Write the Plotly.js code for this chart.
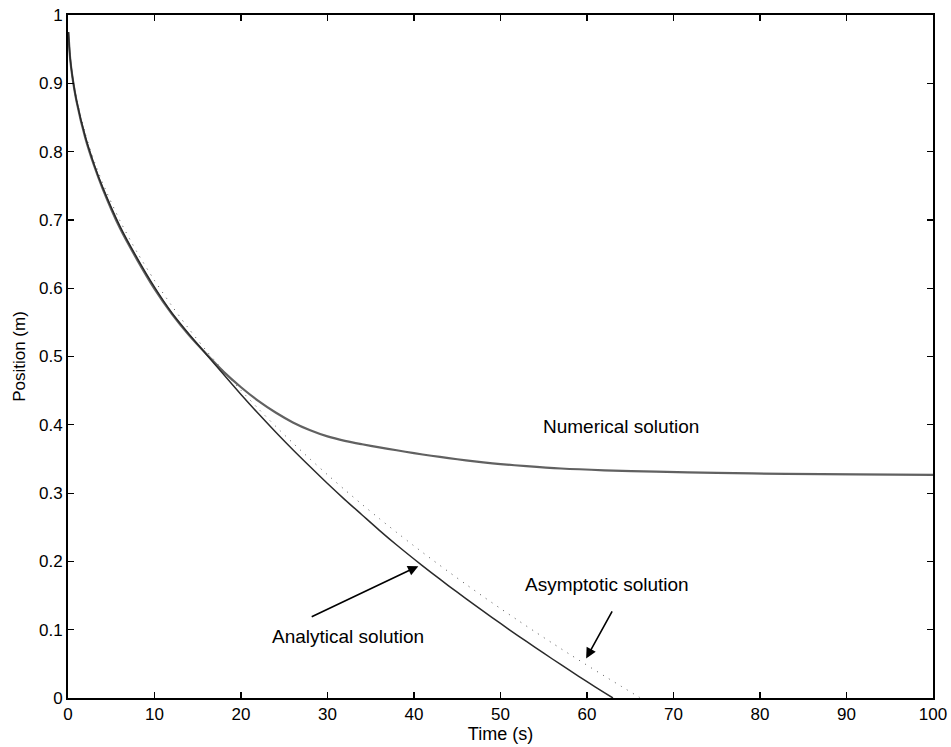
<!DOCTYPE html>
<html>
<head>
<meta charset="utf-8">
<script src="https://cdn.plot.ly/plotly-3.0.1.min.js"></script>
<style>html,body{margin:0;padding:0;background:#fff;}#chart{width:951px;height:747px;}</style>
</head>
<body>
<div id="chart"></div>
<script>
// Time (s) samples and positions (m)
var numT = [0.04, 0.25, 0.5, 1, 2, 3, 4, 6, 8, 10, 12, 14, 16, 18, 20, 22, 24, 26, 28, 30, 32, 34, 36, 38, 40, 42, 44, 46, 48, 50, 53, 57, 62, 68, 75, 83, 91, 100];
var numX = [0.975, 0.936, 0.910, 0.873, 0.820, 0.780, 0.746, 0.688, 0.6415, 0.599, 0.5625, 0.531, 0.5035, 0.4775, 0.455, 0.435, 0.418, 0.4035, 0.392, 0.383, 0.3765, 0.3715, 0.367, 0.3627, 0.3585, 0.3547, 0.3512, 0.348, 0.345, 0.3425, 0.3394, 0.336, 0.3334, 0.3313, 0.3296, 0.3282, 0.3273, 0.3266];

var anaT = [0.04, 0.25, 0.5, 1, 2, 3, 4, 6, 8, 10, 12, 14, 16, 18, 20, 22, 24, 26, 28, 30, 32, 34, 36, 38, 40, 42, 44, 46, 48, 50, 52, 54, 56, 58, 60, 62, 63];
var anaX = [0.975, 0.937, 0.911, 0.874, 0.822, 0.782, 0.748, 0.691, 0.644, 0.6015, 0.564, 0.5325, 0.503, 0.4735, 0.4445, 0.4165, 0.3895, 0.3635, 0.3385, 0.314, 0.2905, 0.268, 0.2455, 0.224, 0.2035, 0.1836, 0.1643, 0.1455, 0.1271, 0.1091, 0.0914, 0.0741, 0.0571, 0.0404, 0.024, 0.0079, 0.0];

var asyT = [0.04, 0.25, 0.5, 1, 2, 3, 4, 6, 8, 10, 12, 14, 16, 18, 20, 22, 24, 26, 28, 30, 32, 34, 36, 38, 40, 42, 44, 46, 48, 50, 52, 54, 56, 58, 60, 62, 64, 66, 66.2];
var asyX = [0.975, 0.9386, 0.9131, 0.8771, 0.8262, 0.7871, 0.7542, 0.699, 0.6524, 0.6114, 0.5743, 0.5401, 0.5084, 0.4786, 0.4504, 0.4236, 0.3979, 0.3733, 0.3497, 0.3269, 0.3048, 0.2834, 0.2626, 0.2424, 0.2227, 0.2035, 0.1848, 0.1665, 0.1485, 0.131, 0.1138, 0.0969, 0.0803, 0.064, 0.048, 0.0323, 0.0168, 0.0015, 0.0];

var xTicks = [0, 10, 20, 30, 40, 50, 60, 70, 80, 90, 100];
var yTicks = [0, 0.1, 0.2, 0.3, 0.4, 0.5, 0.6, 0.7, 0.8, 0.9, 1];
var yTickText = ["0", "0.1", "0.2", "0.3", "0.4", "0.5", "0.6", "0.7", "0.8", "0.9", "1"];

var labels = ["Numerical solution", "Asymptotic solution", "Analytical solution"];

var FONT = "Liberation Sans, Arial, Helvetica, sans-serif";

var traces = [
  {x: asyT, y: asyX, mode: "lines", line: {color: "#555555", width: 1, dash: "1px,6px", shape: "spline", smoothing: 0.8}, hoverinfo: "none"},
  {x: numT, y: numX, mode: "lines", line: {color: "#616161", width: 2.2, shape: "spline", smoothing: 0.8}, hoverinfo: "none"},
  {x: anaT, y: anaX, mode: "lines", line: {color: "#2a2a2a", width: 1.5, shape: "spline", smoothing: 0.8}, hoverinfo: "none"}
];

var axisCommon = {
  showgrid: false, zeroline: false, showline: true, mirror: "ticks",
  linecolor: "#000", linewidth: 2, ticks: "inside", ticklen: 6, tickwidth: 1.2, tickcolor: "#000",
  tickfont: {family: FONT, size: 17, color: "#000"}
};

var layout = {
  width: 951, height: 747,
  margin: {l: 68, r: 18, t: 15, b: 49},
  paper_bgcolor: "#fff", plot_bgcolor: "#fff",
  showlegend: false,
  font: {family: FONT, color: "#000"},
  xaxis: Object.assign({}, axisCommon, {
    range: [0, 100], tickvals: xTicks,
    title: {text: "Time (s)", font: {family: FONT, size: 18, color: "#000"}, standoff: 1}
  }),
  yaxis: Object.assign({}, axisCommon, {
    range: [0, 1], tickvals: yTicks, ticktext: yTickText,
    title: {text: "Position (m)", font: {family: FONT, size: 17, color: "#000"}, standoff: 9}
  }),
  annotations: [
    {x: 63.9, y: 0.398, xref: "x", yref: "y", text: labels[0], showarrow: false, font: {family: FONT, size: 19, color: "#000"}},
    {x: 62.3, y: 0.166, xref: "x", yref: "y", text: labels[1], showarrow: false, font: {family: FONT, size: 19, color: "#000"}},
    {x: 32.4, y: 0.090, xref: "x", yref: "y", text: labels[2], showarrow: false, font: {family: FONT, size: 19, color: "#000"}},
    {x: 40.5, y: 0.193, ax: 28.0, ay: 0.118, xref: "x", yref: "y", axref: "x", ayref: "y", text: "", showarrow: true, arrowhead: 2, arrowsize: 1.3, arrowwidth: 1.6, arrowcolor: "#000"},
    {x: 59.9, y: 0.058, ax: 63.0, ay: 0.129, xref: "x", yref: "y", axref: "x", ayref: "y", text: "", showarrow: true, arrowhead: 2, arrowsize: 1.3, arrowwidth: 1.6, arrowcolor: "#000"}
  ]
};

Plotly.newPlot("chart", traces, layout, {staticPlot: true, displayModeBar: false});
</script>
</body>
</html>
